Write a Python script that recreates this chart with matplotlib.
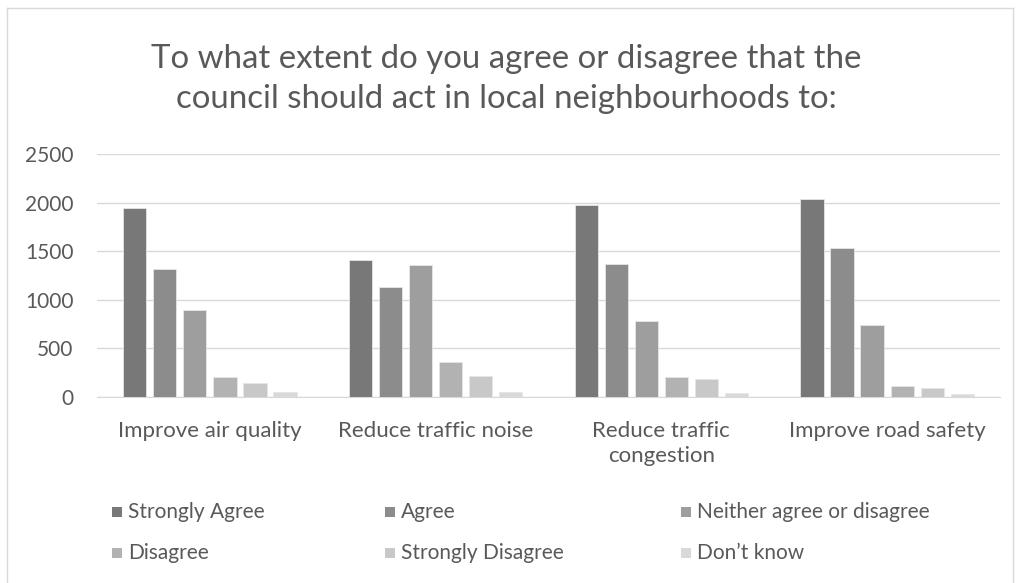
import matplotlib
matplotlib.use("Agg")
import matplotlib.pyplot as plt
from matplotlib.patches import Rectangle
from matplotlib.lines import Line2D
import numpy as np

plt.rcParams['font.family'] = ['Lato', 'DejaVu Sans']

title = "To what extent do you agree or disagree that the\ncouncil should act in local neighbourhoods to:"
categories = ["Improve air quality", "Reduce traffic noise",
              "Reduce traffic\ncongestion", "Improve road safety"]
series = ["Strongly Agree", "Agree", "Neither agree or disagree",
          "Disagree", "Strongly Disagree", "Don\u2019t know"]
strongly_agree = [1945, 1414, 1980, 2042]
agree = [1314, 1136, 1373, 1533]
neither = [900, 1362, 786, 738]
disagree = [203, 357, 203, 117]
strongly_disagree = [148, 213, 185, 97]
dont_know = [48, 55, 38, 31]
values = [strongly_agree, agree, neither, disagree, strongly_disagree, dont_know]
yticks = [0, 500, 1000, 1500, 2000, 2500]

colors = ["#787878", "#8c8c8c", "#9e9e9e", "#b2b2b2", "#c8c8c8", "#d9d9d9"]
text_color = "#595959"

W, H = 1016, 583
fig = plt.figure(figsize=(W / 100, H / 100), dpi=100)

# chart frame
frame = dict(color="#d9d9d9", lw=1.0, transform=fig.transFigure)
fig.add_artist(Line2D([7 / W, 7 / W], [0, 1 - 8 / H], **frame))
fig.add_artist(Line2D([7 / W, 1013 / W], [1 - 8 / H, 1 - 8 / H], **frame))
fig.add_artist(Line2D([1013 / W, 1013 / W], [0, 1 - 8 / H], **frame))

ax = fig.add_axes([97 / W, 1 - 397 / H, 903 / W, 243 / H])
x = np.arange(len(categories))
step = 0.133
width = 0.103
for i, (name, vals) in enumerate(zip(series, values)):
    ax.bar(x + (i - 2.5) * step, vals, width, color=colors[i],
           edgecolor="#e6e6e6", linewidth=0.6, label=name, zorder=3)

ax.set_xlim(-0.5, len(categories) - 0.5)
ax.set_ylim(0, 2500)
ax.set_yticks(yticks)
ax.set_yticklabels([str(v) for v in yticks])
ax.set_xticks(x)
ax.set_xticklabels(categories, linespacing=1.32)
ax.yaxis.grid(True, color="#d9d9d9", lw=1.0, zorder=0)
for s in ["top", "right", "left"]:
    ax.spines[s].set_visible(False)
ax.spines["bottom"].set_color("#d9d9d9")
ax.tick_params(axis="y", length=0, pad=17, labelsize=15, labelcolor=text_color)
ax.tick_params(axis="x", length=0, pad=17, labelsize=16, labelcolor=text_color)
for lbl in ax.get_xticklabels():
    lbl.set_verticalalignment("top")

fig.text(506 / W, 1 - 79 / H, title, ha="center", va="center",
         fontsize=23.8, color=text_color, linespacing=1.4)

# legend in three columns, two rows
mark_x = [112, 385, 681]
row_y = [512, 553]
for i, name in enumerate(series):
    r, c = divmod(i, 3)
    mx, my = mark_x[c], row_y[r]
    fig.add_artist(Rectangle((mx / W, (H - my - 5) / H), 10 / W, 10 / H,
                             facecolor=colors[i], edgecolor="none",
                             transform=fig.transFigure))
    fig.text((mx + 16) / W, 1 - my / H, name, ha="left", va="center",
             fontsize=15, color=text_color)

fig.savefig("out.png", dpi=100)
